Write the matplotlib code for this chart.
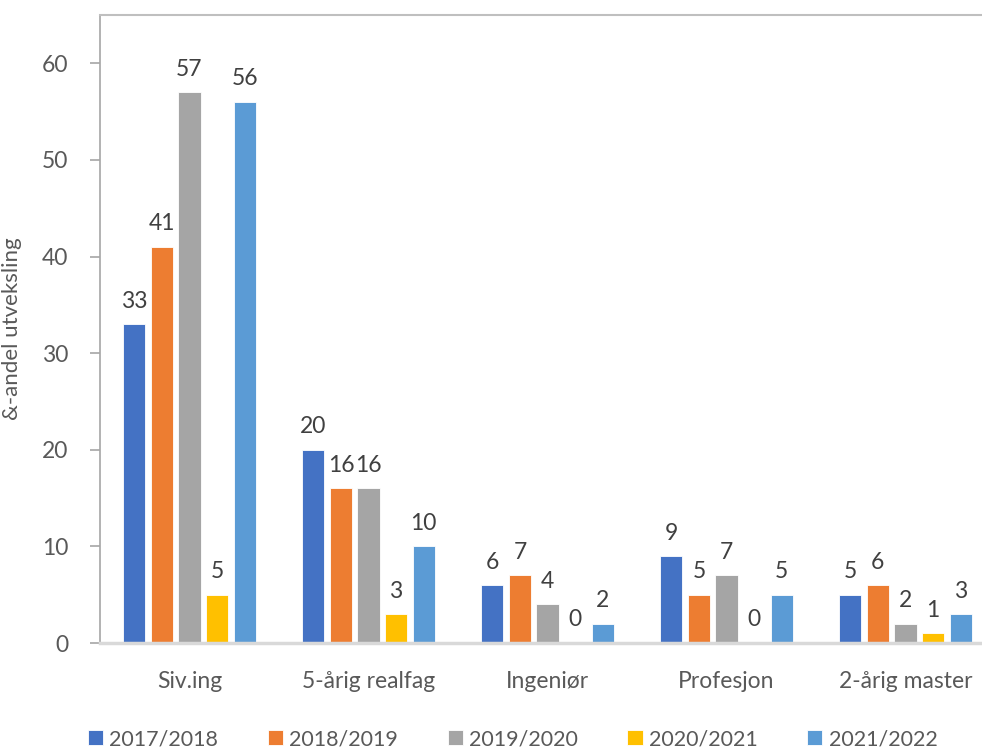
import numpy as np
import matplotlib.pyplot as plt

plt.rcParams['font.family'] = ['Lato', 'DejaVu Sans']

categories = ["Siv.ing", "5-årig realfag", "Ingeniør", "Profesjon", "2-årig master"]
years = ["2017/2018", "2018/2019", "2019/2020", "2020/2021", "2021/2022"]
v_2017 = [33, 20, 6, 9, 5]
v_2018 = [41, 16, 7, 5, 6]
v_2019 = [57, 16, 4, 7, 2]
v_2020 = [5, 3, 0, 0, 1]
v_2021 = [56, 10, 2, 5, 3]
series = [v_2017, v_2018, v_2019, v_2020, v_2021]
colors = ["#4472C4", "#ED7D31", "#A5A5A5", "#FFC000", "#5B9BD5"]

text_col = "#595959"

fig = plt.figure(figsize=(9.82, 7.49), dpi=100)
ax = fig.add_axes([100 / 982, 106 / 749, 895 / 982, 628 / 749])

x = np.arange(len(categories))
step = 0.154
width = 0.123
for i, (vals, yr, c) in enumerate(zip(series, years, colors)):
    pos = x + (i - 2) * step
    bars = ax.bar(pos, vals, width, color=c, label=yr, edgecolor='white', linewidth=0.6)
    for b, v in zip(bars, vals):
        ax.annotate(str(v), (b.get_x() + b.get_width() / 2, v), xytext=(0, 9),
                    textcoords='offset points', ha='center', va='bottom',
                    fontsize=16.5, color="#404040")

ax.set_xlim(-0.5, 4.5)
ax.set_ylim(0, 65)
ax.set_yticks(range(0, 61, 10))
ax.set_xticks(x)
ax.set_xticklabels(categories)
ax.tick_params(axis='x', length=0, pad=20, labelsize=16.5, labelcolor=text_col)
ax.tick_params(axis='y', length=7, width=1.2, color="#A6A6A6", pad=16,
               labelsize=16.5, labelcolor=text_col)
ax.set_ylabel("&-andel utveksling", fontsize=16, color=text_col)
ax.yaxis.set_label_coords(-0.087, 0.5)

ax.spines['right'].set_visible(False)
ax.spines['left'].set_color("#A6A6A6")
ax.spines['left'].set_linewidth(1.2)
ax.spines['top'].set_color("#BFBFBF")
ax.spines['top'].set_linewidth(1.5)
ax.spines['bottom'].set_color("#D9D9D9")
ax.spines['bottom'].set_linewidth(2.5)

fig.legend(loc='lower center', bbox_to_anchor=(0.522, -0.026), ncol=5, frameon=False,
           fontsize=15.5, labelcolor=text_col, handlelength=0.7, handleheight=0.7,
           handletextpad=0.3, columnspacing=2.3)

fig.savefig("out.png", dpi=100)
